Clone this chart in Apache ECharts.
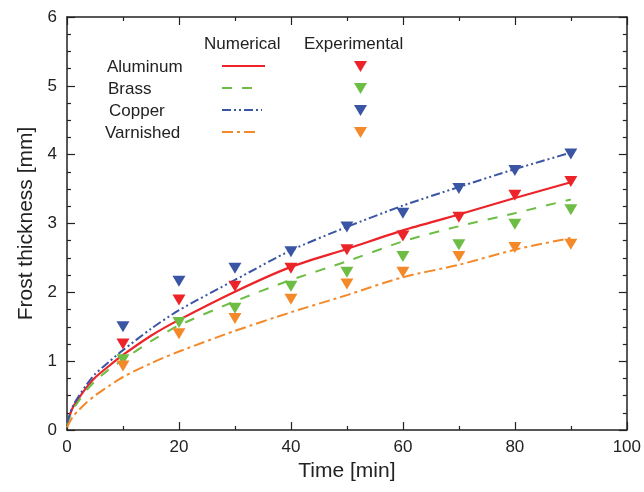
<!DOCTYPE html>
<html><head><meta charset="utf-8">
<script src="https://cdn.jsdelivr.net/npm/echarts@6/dist/echarts.min.js"></script>
<style>html,body{margin:0;padding:0;background:#fff}#c{width:644px;height:492px}</style>
</head><body><div id="c"></div>
<script>
// Numerical (model) curves
const tNum = [0, 1, 2, 3.5, 5, 7.5, 10, 15, 20, 30, 40, 50, 60, 70, 80, 90];
const aluminumNum = [0.10, 0.32, 0.45, 0.62, 0.76, 0.93, 1.09, 1.37, 1.60, 2.01, 2.37, 2.63, 2.90, 3.13, 3.37, 3.60];
const brassNum    = [0.08, 0.29, 0.41, 0.58, 0.71, 0.88, 1.02, 1.29, 1.52, 1.87, 2.18, 2.45, 2.74, 2.96, 3.15, 3.35];
const copperNum   = [0.10, 0.34, 0.48, 0.66, 0.81, 0.99, 1.16, 1.47, 1.74, 2.18, 2.61, 2.95, 3.26, 3.53, 3.79, 4.03];
const varnishNum  = [0.04, 0.19, 0.28, 0.40, 0.50, 0.64, 0.77, 0.97, 1.14, 1.44, 1.71, 1.96, 2.22, 2.40, 2.62, 2.79];
// Experimental points
const tExp = [10, 20, 30, 40, 50, 60, 70, 80, 90];
const aluminumExp = [1.25, 1.89, 2.09, 2.35, 2.62, 2.82, 3.09, 3.41, 3.61];
const brassExp    = [1.02, 1.56, 1.77, 2.09, 2.29, 2.52, 2.69, 2.99, 3.20];
const copperExp   = [1.50, 2.16, 2.35, 2.59, 2.95, 3.15, 3.51, 3.77, 4.01];
const varnishExp  = [0.93, 1.40, 1.62, 1.90, 2.12, 2.29, 2.52, 2.65, 2.70];
const materials = ['Aluminum', 'Brass', 'Copper', 'Varnished'];
const xTicks = [0, 20, 40, 60, 80, 100];
const yTicks = [0, 1, 2, 3, 4, 5, 6];

const colors = ['#ec2328', '#6dbd45', '#3a55a4', '#f4892a'];
const dashes = ['solid', [10, 10], [9, 3, 2, 3, 2, 3], [11, 4, 3, 4]];
const nums = [aluminumNum, brassNum, copperNum, varnishNum];
const exps = [aluminumExp, brassExp, copperExp, varnishExp];
const FONT = 'Liberation Sans';

const series = [];
nums.forEach((arr, i) => {
  series.push({
    type: 'line', name: materials[i] + ' numerical', smooth: 0.25, symbol: 'none',
    data: tNum.map((t, k) => [t, arr[k]]),
    lineStyle: { color: colors[i], width: i === 0 ? 2.2 : 2, type: dashes[i] },
    z: 2
  });
});
exps.forEach((arr, i) => {
  series.push({
    type: 'scatter', name: materials[i] + ' experimental', symbol: 'triangle', symbolRotate: 180,
    symbolSize: [13, 11], data: tExp.map((t, k) => [t, arr[k]]),
    itemStyle: { color: colors[i], opacity: 1 }, z: 3
  });
});

const LF = '17px ' + FONT;
const legendGraphics = [];
legendGraphics.push({ type: 'text', left: 204, top: 36, style: { text: 'Numerical', font: LF, fill: '#222' } });
legendGraphics.push({ type: 'text', left: 304, top: 36, style: { text: 'Experimental', font: LF, fill: '#222' } });
const rowY = [66, 88, 110, 132];
const textX = [107, 108, 109, 105];
const lineEnd = [265, 256, 262, 258];
materials.forEach((m, i) => {
  legendGraphics.push({ type: 'text', left: textX[i], top: rowY[i] - 7, style: { text: m, font: LF, fill: '#222' } });
  legendGraphics.push({ type: 'line', shape: { x1: 222, y1: rowY[i], x2: lineEnd[i], y2: rowY[i] },
    style: { stroke: colors[i], lineWidth: 2, lineDash: dashes[i] === 'solid' ? null : dashes[i] } });
  legendGraphics.push({ type: 'polygon', shape: { points: [[354, rowY[i] - 5], [367, rowY[i] - 5], [360.5, rowY[i] + 6]] },
    style: { fill: colors[i] } });
});

function axisStyle(split) {
  return {
    axisLine: { show: true, onZero: false, lineStyle: { color: '#222', width: 1.5 } },
    axisTick: { show: true, inside: true, length: 8, lineStyle: { color: '#222', width: 1.2 } },
    minorTick: { show: true, splitNumber: split, length: 4, lineStyle: { color: '#222', width: 1.2 } },
    splitLine: { show: false }
  };
}

const chart = echarts.init(document.getElementById('c'), null, { renderer: 'canvas' });
chart.setOption({
  animation: false,
  backgroundColor: '#fff',
  grid: { left: 67, right: 14, top: 17, bottom: 62 },
  xAxis: [
    Object.assign({ type: 'value', min: xTicks[0], max: xTicks[xTicks.length - 1], interval: 20, position: 'bottom',
      name: 'Time [min]', nameLocation: 'middle', nameGap: 23,
      nameTextStyle: { fontFamily: FONT, fontSize: 21, color: '#222' },
      axisLabel: { fontFamily: FONT, fontSize: 17, color: '#222', margin: 9 } }, axisStyle(2)),
    Object.assign({ type: 'value', min: 0, max: 100, interval: 20, position: 'top', axisLabel: { show: false } }, axisStyle(2))
  ],
  yAxis: [
    Object.assign({ type: 'value', min: yTicks[0], max: yTicks[yTicks.length - 1], interval: 1, position: 'left',
      name: 'Frost thickness [mm]', nameLocation: 'middle', nameGap: 27,
      nameTextStyle: { fontFamily: FONT, fontSize: 21, color: '#222' },
      axisLabel: { fontFamily: FONT, fontSize: 17, color: '#222', margin: 10 } }, axisStyle(4)),
    Object.assign({ type: 'value', min: 0, max: 6, interval: 1, position: 'right', axisLabel: { show: false } }, axisStyle(4))
  ],
  series: series,
  graphic: legendGraphics
});
</script></body></html>
